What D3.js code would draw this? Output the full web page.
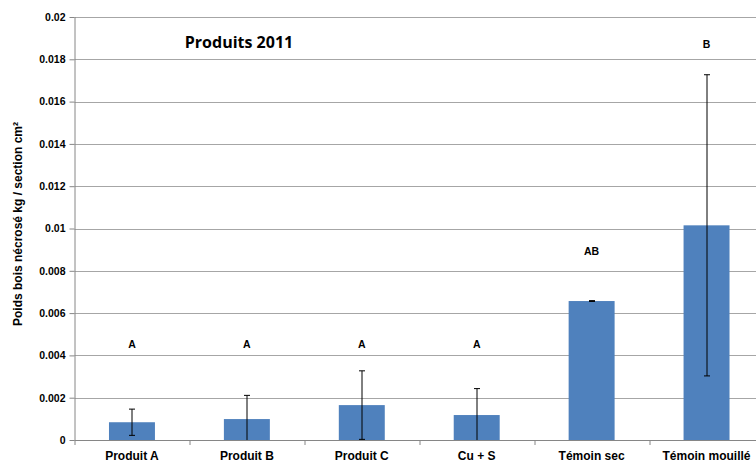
<!DOCTYPE html>
<html>
<head>
<meta charset="utf-8">
<script src="https://cdn.jsdelivr.net/npm/d3@7"></script>
<style>
  body { margin: 0; background: #fff; }
  svg { display: block; }
  text { font-family: "Liberation Sans", Arial, sans-serif; font-weight: bold; fill: #000; }
</style>
</head>
<body>
<svg class="barchart"></svg>
<script>
var categories = ["Produit A", "Produit B", "Produit C", "Cu + S", "Témoin sec", "Témoin mouillé"];
var values     = [0.00084, 0.00099, 0.00165, 0.00118, 0.00657, 0.01015];
var errors     = [0.00062, 0.00112, 0.00162, 0.00125, 0.00002, 0.00712];
var letters    = ["A", "A", "A", "A", "AB", "B"];
var letterPos  = [0.00454, 0.00454, 0.00454, 0.00454, 0.00894, 0.01872];
var yTicks     = [0, 0.002, 0.004, 0.006, 0.008, 0.01, 0.012, 0.014, 0.016, 0.018, 0.02];

window.onload = function () {
  var W = 756, H = 464;
  var margin = {top: 17, right: -8, bottom: 24, left: 74.5};
  var width = W - margin.left - margin.right;
  var height = H - margin.top - margin.bottom;

  var data = categories.map(function(c, i) {
    return {name: c, value: values[i], err: errors[i], letter: letters[i], lpos: letterPos[i]};
  });

  var svg = d3.select(".barchart").attr("width", W).attr("height", H);
  var chart = svg.append("g")
      .attr("transform", "translate(" + margin.left + "," + margin.top + ")");

  var y = d3.scaleLinear().domain([0, 0.02]).range([height, 0]);
  var x = d3.scaleBand().domain(categories).range([0, width])
      .paddingInner(0.6).paddingOuter(0.3);
  var cx = function(d) { return Math.round(x(d.name) + x.bandwidth() / 2) + 0.5; };

  // gridlines
  chart.append("g").selectAll("line")
      .data(yTicks.slice(1))
    .enter().append("line")
      .attr("x1", 0).attr("x2", width)
      .attr("y1", function(d) { return Math.round(y(d)) + 0.5; })
      .attr("y2", function(d) { return Math.round(y(d)) + 0.5; })
      .style("stroke", "#a6a6a6").style("stroke-width", 1);

  // bars
  chart.append("g").selectAll("rect")
      .data(data)
    .enter().append("rect")
      .attr("x", function(d) { return x(d.name); })
      .attr("y", function(d) { return y(d.value); })
      .attr("width", x.bandwidth())
      .attr("height", function(d) { return height - y(d.value); })
      .style("fill", "#4f81bd");

  // error bars
  var err = chart.append("g").selectAll("g")
      .data(data)
    .enter().append("g")
      .attr("transform", function(d) { return "translate(" + cx(d) + ",0)"; });
  err.append("line")
      .attr("y1", function(d) { return y(d.value + d.err); })
      .attr("y2", function(d) { return y(Math.max(0, d.value - d.err)); })
      .style("stroke", "#000").style("stroke-width", 1);
  err.append("line")
      .attr("x1", -3).attr("x2", 3)
      .attr("y1", function(d) { return y(d.value + d.err); })
      .attr("y2", function(d) { return y(d.value + d.err); })
      .style("stroke", "#000").style("stroke-width", 1);
  err.filter(function(d) { return d.value - d.err > 0; }).append("line")
      .attr("x1", -3).attr("x2", 3)
      .attr("y1", function(d) { return y(d.value - d.err); })
      .attr("y2", function(d) { return y(d.value - d.err); })
      .style("stroke", "#000").style("stroke-width", 1);

  // y axis
  var yAxis = d3.axisLeft(y).tickValues(yTicks).tickSize(5).tickPadding(4)
      .tickFormat(function(d) { return d === 0 ? "0" : String(+d.toFixed(3)); });
  var ya = chart.append("g").call(yAxis);
  ya.selectAll("path, line").style("stroke", "#868686");
  ya.selectAll("text").style("font-size", "10.5px");
  ya.select(".domain").attr("d", "M0.5," + (height + 0.5) + "V0");

  // x axis
  var xa = chart.append("g").attr("transform", "translate(0," + height + ")");
  xa.append("line").attr("x1", 0).attr("x2", width).attr("y1", 0.5).attr("y2", 0.5)
      .style("stroke", "#868686");
  xa.selectAll(".tk").data(d3.range(categories.length + 1))
    .enter().append("line")
      .attr("class", "tk")
      .attr("x1", function(i) { return Math.round(i * x.step()) + 0.5; })
      .attr("x2", function(i) { return Math.round(i * x.step()) + 0.5; })
      .attr("y1", 0).attr("y2", 5)
      .style("stroke", "#868686");
  xa.selectAll(".lbl").data(data)
    .enter().append("text")
      .attr("class", "lbl")
      .attr("x", function(d) { return x(d.name) + x.bandwidth() / 2; })
      .attr("y", 20)
      .attr("text-anchor", "middle")
      .style("font-size", "12px")
      .text(function(d) { return d.name; });

  // significance letters
  chart.append("g").selectAll("text")
      .data(data)
    .enter().append("text")
      .attr("x", function(d) { return x(d.name) + x.bandwidth() / 2; })
      .attr("y", function(d) { return y(d.lpos); })
      .attr("dy", "0.35em")
      .attr("text-anchor", "middle")
      .style("font-size", "10.5px")
      .text(function(d) { return d.letter; });

  // title
  svg.append("text")
      .attr("x", 239).attr("y", 48)
      .attr("text-anchor", "middle")
      .style("font-family", "'Open Sans', sans-serif")
      .style("font-size", "16px")
      .text("Produits 2011");

  // y axis title
  svg.append("text")
      .attr("transform", "translate(22,224) rotate(-90)")
      .attr("text-anchor", "middle")
      .style("font-size", "12px")
      .text("Poids bois nécrosé kg / section cm²");
};
</script>
</body>
</html>
